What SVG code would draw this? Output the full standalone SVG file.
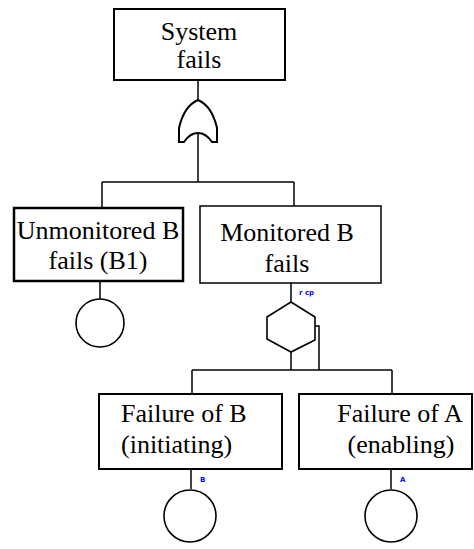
<svg xmlns="http://www.w3.org/2000/svg" width="474" height="549" viewBox="0 0 474 549">
  <style>
    .box { fill: #fff; stroke: #000; stroke-width: 2; }
    .thin { stroke-width: 1.5; }
    .lbl { font-family: "Liberation Serif", "Times New Roman", serif; font-size: 26px; fill: #000; }
    .mid { text-anchor: middle; }
    .wire { fill: none; stroke: #000; stroke-width: 1.5; }
    .gate { fill: #fff; stroke: #000; stroke-width: 2; }
    .evt { fill: #fff; stroke: #000; stroke-width: 1.6; }
    .tag { font-family: "DejaVu Sans", sans-serif; font-size: 7px; font-weight: bold; fill: #0000ff; }
  </style>
  <rect width="474" height="549" fill="#fff"/>

  <!-- connectors -->
  <g id="connectors" class="wire">
    <line x1="198" y1="80" x2="198" y2="101"/>
    <line x1="198" y1="133" x2="198" y2="182"/>
    <line x1="102" y1="182" x2="294" y2="182"/>
    <line x1="102" y1="182" x2="102" y2="208"/>
    <line x1="294" y1="182" x2="294" y2="206"/>
    <line x1="100" y1="281" x2="100" y2="299"/>
    <line x1="291" y1="283" x2="291" y2="302"/>
    <line x1="291" y1="352" x2="291" y2="370"/>
    <polyline points="315,326 319,326 319,370"/>
    <line x1="192" y1="370" x2="392" y2="370"/>
    <line x1="192" y1="370" x2="192" y2="394"/>
    <line x1="392" y1="370" x2="392" y2="394"/>
    <line x1="191" y1="469" x2="191" y2="489"/>
    <line x1="391" y1="469" x2="391" y2="489"/>
  </g>

  <!-- top event -->
  <g id="system-fails">
    <rect class="box" x="114" y="9" width="171" height="71"/>
    <text class="lbl mid" x="199" y="40">System</text>
    <text class="lbl mid" x="199" y="68">fails</text>
  </g>

  <!-- OR gate -->
  <g id="or-gate">
    <path class="gate" d="M198,100 Q212,106 217,128 L217,142 L212,142 Q206,133 198,133 Q190,133 184,142 L179,142 L179,128 Q184,106 198,100 Z"/>
  </g>

  <g id="unmonitored-b">
    <rect class="box" x="14" y="208" width="169" height="73" style="stroke-width:2.5"/>
    <text class="lbl mid" x="98" y="239">Unmonitored B</text>
    <text class="lbl mid" x="98" y="269">fails (B1)</text>
  </g>

  <g id="b1-basic">
    <circle class="evt" cx="100" cy="323" r="24"/>
  </g>

  <g id="monitored-b">
    <rect class="box thin" x="200" y="206" width="181" height="77"/>
    <text class="lbl mid" x="287" y="241">Monitored B</text>
    <text class="lbl mid" x="287" y="272">fails</text>
    <text class="tag" x="299" y="295">r cp</text>
  </g>

  <!-- inhibit / priority gate -->
  <g id="hex-gate">
    <polygon class="gate" style="stroke-width:1.6" points="291,302 315,317 315,340 291,352 267,339 267,317"/>
  </g>

  <g id="failure-b">
    <rect class="box" x="99" y="394" width="183" height="75"/>
    <text class="lbl" x="121" y="422">Failure of B</text>
    <text class="lbl" x="121" y="453">(initiating)</text>
    <text class="tag" x="200" y="482">B</text>
  </g>

  <g id="b-basic">
    <circle class="evt" cx="190" cy="516" r="26"/>
  </g>

  <g id="failure-a">
    <rect class="box" x="299" y="394" width="173" height="75"/>
    <text class="lbl mid" x="400" y="422">Failure of A</text>
    <text class="lbl mid" x="401" y="453">(enabling)</text>
    <text class="tag" x="400" y="482">A</text>
  </g>

  <g id="a-basic">
    <circle class="evt" cx="391" cy="516" r="26"/>
  </g>
</svg>
